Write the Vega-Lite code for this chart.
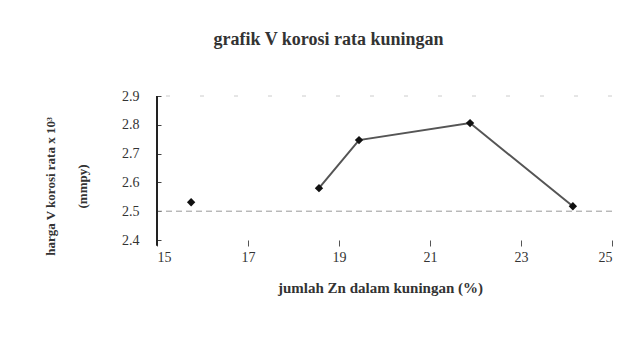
{
  "$schema": "https://vega.github.io/schema/vega-lite/v6.json",
  "autosize": {"type": "none"},
  "width": 455,
  "height": 144,
  "padding": {"left": 157, "top": 96, "right": 22, "bottom": 109},
  "background": "white",
  "title": {
    "text": "grafik V korosi rata kuningan",
    "font": "Liberation Serif",
    "fontSize": 18,
    "fontWeight": "bold",
    "color": "#333",
    "anchor": "middle",
    "dx": -56,
    "offset": 40
  },
  "data": {"values": [
    {"zn": 15.75, "v": 2.531, "s": "a"},
    {"zn": 18.56, "v": 2.58, "s": "b"},
    {"zn": 19.44, "v": 2.747, "s": "b"},
    {"zn": 21.88, "v": 2.806, "s": "b"},
    {"zn": 24.14, "v": 2.517, "s": "b"}
  ]},
  "layer": [
    {
      "data": {"values": [{"y": 2.5}]},
      "mark": {"type": "rule", "color": "#999", "strokeDash": [6, 4], "strokeWidth": 1},
      "encoding": {
        "y": {
          "field": "y", "type": "quantitative",
          "scale": {"domain": [2.4, 2.9], "nice": false, "zero": false},
          "axis": {
            "tickCount": 6,
            "format": ".1f",
            "title": ["harga V korosi rata x 10³", "(mmpy)"]
          }
        }
      }
    },
    {
      "data": {"values": [{"y": 2.9}]},
      "mark": {"type": "rule", "color": "#ccc", "strokeDash": [4, 30], "strokeWidth": 1},
      "encoding": {"y": {"field": "y", "type": "quantitative"}}
    },
    {
      "data": {"values": [{"x": 15, "y": 2.38, "y2": 2.9}]},
      "mark": {"type": "rule", "color": "#222", "strokeWidth": 2, "clip": false},
      "encoding": {
        "x": {"field": "x", "type": "quantitative"},
        "y": {"field": "y", "type": "quantitative"},
        "y2": {"field": "y2"}
      }
    },
    {
      "transform": [{"filter": "datum.s == 'b'"}],
      "mark": {"type": "line", "color": "#555", "strokeWidth": 2},
      "encoding": {
        "x": {
          "field": "zn", "type": "quantitative",
          "scale": {"domain": [15, 25], "nice": false, "zero": false},
          "axis": {
            "values": [15, 17, 19, 21, 23, 25],
            "title": "jumlah Zn dalam kuningan (%)"
          }
        },
        "y": {"field": "v", "type": "quantitative"}
      }
    },
    {
      "mark": {"type": "point", "shape": "diamond", "filled": true, "color": "#111", "size": 70, "opacity": 1},
      "encoding": {
        "x": {"field": "zn", "type": "quantitative"},
        "y": {"field": "v", "type": "quantitative"}
      }
    }
  ],
  "config": {
    "view": {"stroke": null},
    "axisY": {
      "labelOverlap": false,
      "domain": false,
      "tickSize": -4, "tickColor": "#444",
      "grid": false,
      "labelFont": "Liberation Serif", "labelFontSize": 14, "labelColor": "#333",
      "labelPadding": 22,
      "titleFont": "Liberation Serif", "titleFontSize": 13, "titleFontWeight": "bold",
      "titleColor": "#333", "titleLineHeight": 32, "titlePadding": 32, "titleY": 90
    },
    "axisX": {
      "domain": false, "grid": false,
      "tickSize": 6, "tickColor": "#555",
      "labelFont": "Liberation Serif", "labelFontSize": 14, "labelColor": "#333",
      "labelPadding": 4,
      "titleFont": "Liberation Serif", "titleFontSize": 15, "titleFontWeight": "bold",
      "titleColor": "#333", "titlePadding": 16, "titleX": 223
    }
  }
}
